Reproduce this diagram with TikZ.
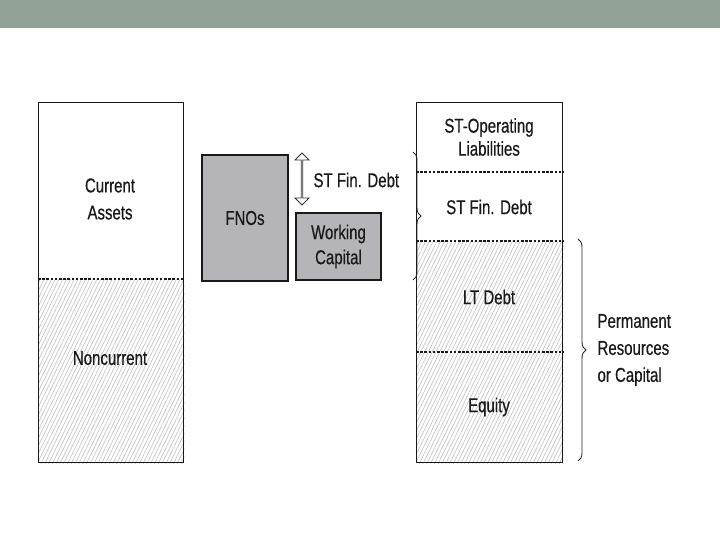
\documentclass[tikz,border=0pt]{standalone}
\usepackage{fontspec}
\setmainfont{Liberation Sans}[FakeStretch=0.75,FakeBold=0.5]
\usetikzlibrary{patterns.meta,decorations.pathreplacing,shapes.arrows,backgrounds}
\definecolor{bandgreen}{HTML}{92A195}
\definecolor{fnogray}{HTML}{B5B5B9}
\begin{document}
\begin{tikzpicture}[x=1pt,y=-1pt,
    lbl/.style={font=\fontsize{20}{27}\selectfont,align=center,text=black!90},
    blk/.style={draw=black!90,line width=1.3pt,inner sep=0pt,anchor=north west},
    hatch/.style={pattern={Lines[angle=64,distance=3.4pt,line width=0.6pt]},pattern color=black!25},
    split/.style={black!90,line width=1.8pt,dash pattern=on 2.6pt off 1.6pt},
    brc/.style={decorate,decoration={brace,amplitude=8pt},black!85,line width=0.9pt}]
     \useasboundingbox (0,0) rectangle (720,540);
     \fill[bandgreen] (0,0) rectangle (720,28);
     \node[blk,minimum width=145pt,minimum height=360pt] (assets) at (38,102){};
     \node[blk,minimum width=146pt,minimum height=360pt] (claims) at (416,102){};
     \begin{scope}[on background layer]
      \fill[hatch] (assets.south west) rectangle (assets.east |- 0,279);
      \fill[hatch] (claims.south west) rectangle (claims.east |- 0,241);
     \end{scope}
     \draw[split] (assets.west |- 0,279) -- (assets.east |- 0,279);
     \draw[split] (claims.west |- 0,172) -- (claims.east |- 0,172);
     \draw[split] (claims.west |- 0,241) -- (claims.east |- 0,241);
     \draw[split] (claims.west |- 0,352) -- (claims.east |- 0,352);
     \node[lbl] (current) at (110,199){Current\\Assets};
     \node[lbl] (noncurrent) at (110,358){Noncurrent};
     \node[blk,lbl,fill=fnogray,minimum width=86pt,minimum height=126pt,anchor=center] (fnos) at (245,218){FNOs};
     \node[blk,lbl,fill=fnogray,minimum width=85pt,minimum height=67pt,anchor=center,
        font=\fontsize{20}{25}\selectfont] (wc) at (338.5,246.5){Working\\Capital};
     \node[double arrow,draw=black!80,line width=0.8pt,rotate=90,minimum height=52pt,
        minimum width=14pt,double arrow head extend=3.5pt,inner sep=0pt] (gap) at (302,179){};
     \node[lbl,anchor=west] (gaptxt) at (310,180){ST Fin. Debt};
     \node[lbl,font=\fontsize{20}{23}\selectfont] (opliab) at (489,137){ST-Operating\\Liabilities};
     \node[lbl] (stdebt) at (489,207){ST Fin. Debt};
     \node[lbl] (ltdebt) at (489,297){LT Debt};
     \node[lbl] (equity) at (489,407){Equity};
     \coordinate (b1top) at (413,152);
     \coordinate (b1bot) at (413,280);
     \coordinate (b2top) at (578,239);
     \coordinate (b2bot) at (578,461);
     \draw[brc] (b1top) -- (b1bot);
     \draw[brc] (b2top) -- (b2bot);
     \node[lbl,align=left,anchor=west] (perm) at (594,350){Permanent\\Resources\\or Capital};
\end{tikzpicture}
\end{document}
